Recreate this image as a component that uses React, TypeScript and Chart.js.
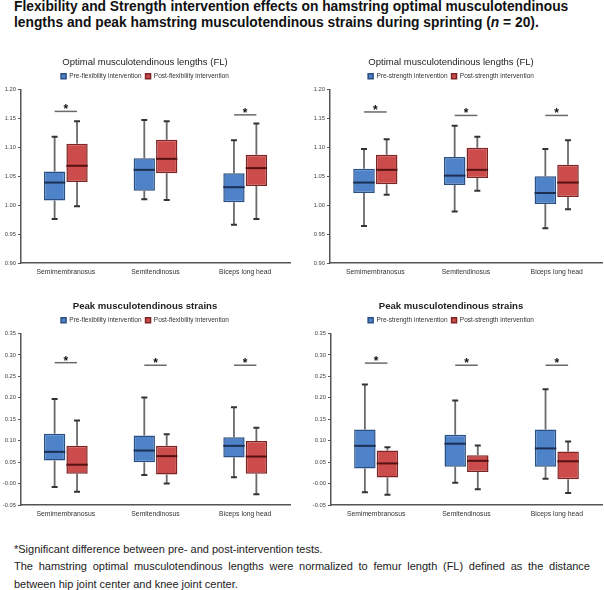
import React, { useEffect, useRef } from "react";
import { Chart, registerables } from "chart.js";

Chart.register(...registerables);

const FONT = "'Liberation Sans', Arial, sans-serif";

const categories = ["Semimembranosus", "Semitendinosus", "Biceps long head"];

// each entry: [min, q1, median, q3, max]
const flexLengthPre = [
  [0.976, 1.008, 1.039, 1.058, 1.118],
  [1.010, 1.025, 1.061, 1.081, 1.147],
  [0.966, 1.005, 1.031, 1.055, 1.112],
];
const flexLengthPost = [
  [0.998, 1.040, 1.068, 1.106, 1.145],
  [1.009, 1.055, 1.080, 1.113, 1.145],
  [0.976, 1.033, 1.064, 1.087, 1.141],
];
const flexLengthSig = [1.162, null, 1.156];

const strengthLengthPre = [
  [0.964, 1.021, 1.039, 1.063, 1.097],
  [0.989, 1.035, 1.051, 1.083, 1.137],
  [0.960, 1.002, 1.021, 1.050, 1.097],
];
const strengthLengthPost = [
  [1.018, 1.036, 1.061, 1.087, 1.114],
  [1.025, 1.047, 1.061, 1.099, 1.118],
  [0.993, 1.014, 1.039, 1.070, 1.112],
];
const strengthLengthSig = [1.161, 1.155, 1.155];

const flexStrainPre = [
  [-0.008, 0.054, 0.074, 0.116, 0.197],
  [0.020, 0.050, 0.077, 0.112, 0.201],
  [0.015, 0.061, 0.088, 0.108, 0.178],
];
const flexStrainPost = [
  [-0.019, 0.023, 0.044, 0.088, 0.147],
  [0.000, 0.021, 0.064, 0.088, 0.115],
  [-0.025, 0.023, 0.063, 0.099, 0.130],
];
const flexStrainSig = [0.282, 0.276, 0.276];

const strengthStrainPre = [
  [-0.020, 0.035, 0.088, 0.126, 0.231],
  [0.002, 0.039, 0.093, 0.114, 0.194],
  [0.011, 0.039, 0.082, 0.126, 0.220],
];
const strengthStrainPost = [
  [-0.026, 0.014, 0.047, 0.077, 0.085],
  [-0.013, 0.027, 0.053, 0.066, 0.089],
  [-0.022, 0.010, 0.052, 0.075, 0.098],
];
const strengthStrainSig = [0.281, 0.276, 0.276];

const lengthTicks = { min: 0.9, max: 1.2, step: 0.05 };
const strainTicks = { min: -0.05, max: 0.35, step: 0.05 };

const BLUE = "#4f83c9";
const BLUE_EDGE = "#2a4f82";
const BLUE_MED = "#1b2f52";
const RED = "#cc4b4b";
const RED_EDGE = "#7d2424";
const RED_MED = "#561212";

const boxExtras = {
  id: "boxExtras",
  beforeDatasetsDraw(chart: any, _args: any, opts: any) {
    const { ctx } = chart;
    const y = chart.scales.y;
    const sets = [opts.pre, opts.post];
    ctx.save();
    sets.forEach((stats: number[][], di: number) => {
      const meta = chart.getDatasetMeta(di);
      meta.data.forEach((el: any, j: number) => {
        const s = stats[j];
        const x = el.x;
        const yMin = y.getPixelForValue(s[0]);
        const yQ1 = y.getPixelForValue(s[1]);
        const yQ3 = y.getPixelForValue(s[3]);
        const yMax = y.getPixelForValue(s[4]);
        ctx.strokeStyle = "#6a6a6a";
        ctx.lineWidth = 1.8;
        ctx.beginPath();
        ctx.moveTo(x, yMax);
        ctx.lineTo(x, yQ3);
        ctx.moveTo(x, yQ1);
        ctx.lineTo(x, yMin);
        ctx.stroke();
        ctx.strokeStyle = "#333";
        ctx.lineWidth = 2;
        ctx.beginPath();
        ctx.moveTo(x - 3, yMax);
        ctx.lineTo(x + 3, yMax);
        ctx.moveTo(x - 3, yMin);
        ctx.lineTo(x + 3, yMin);
        ctx.stroke();
      });
    });
    ctx.restore();
  },
  afterDatasetsDraw(chart: any, _args: any, opts: any) {
    const { ctx } = chart;
    const y = chart.scales.y;
    const sets = [opts.pre, opts.post];
    const medColors = [BLUE_MED, RED_MED];
    ctx.save();
    sets.forEach((stats: number[][], di: number) => {
      const meta = chart.getDatasetMeta(di);
      meta.data.forEach((el: any, j: number) => {
        const ym = y.getPixelForValue(stats[j][2]);
        ctx.strokeStyle = medColors[di];
        ctx.lineWidth = 2;
        ctx.beginPath();
        ctx.moveTo(el.x - el.width / 2, ym);
        ctx.lineTo(el.x + el.width / 2, ym);
        ctx.stroke();
      });
    });
    const m0 = chart.getDatasetMeta(0);
    const m1 = chart.getDatasetMeta(1);
    (opts.sig as (number | null)[]).forEach((v, j) => {
      if (v == null) return;
      const yy = y.getPixelForValue(v);
      const x0 = m0.data[j].x;
      const x1 = m1.data[j].x;
      ctx.strokeStyle = "#6a6a6a";
      ctx.lineWidth = 1.5;
      ctx.beginPath();
      ctx.moveTo(x0, yy);
      ctx.lineTo(x1, yy);
      ctx.stroke();
      ctx.fillStyle = "#111";
      ctx.font = `bold 12px ${FONT}`;
      ctx.textAlign = "center";
      ctx.textBaseline = "alphabetic";
      ctx.fillText("*", (x0 + x1) / 2, yy + 2);
    });
    ctx.restore();
  },
};

type PanelProps = {
  left: number;
  top: number;
  width: number;
  height: number;
  axisWidth: number;
  padRight: number;
  title: string;
  bold: boolean;
  preLabel: string;
  postLabel: string;
  pre: number[][];
  post: number[][];
  sig: (number | null)[];
  range: { min: number; max: number; step: number };
};

function Panel(p: PanelProps) {
  const ref = useRef<HTMLCanvasElement>(null);
  useEffect(() => {
    if (!ref.current) return;
    const chart = new Chart(ref.current, {
      type: "bar",
      data: {
        labels: categories,
        datasets: [
          {
            label: p.preLabel,
            data: p.pre.map((s) => [s[1], s[3]]),
            backgroundColor: BLUE,
            borderColor: BLUE_EDGE,
            borderWidth: 1.5,
            borderSkipped: false,
            categoryPercentage: 0.5,
            barPercentage: 0.95,
          },
          {
            label: p.postLabel,
            data: p.post.map((s) => [s[1], s[3]]),
            backgroundColor: RED,
            borderColor: RED_EDGE,
            borderWidth: 1.5,
            borderSkipped: false,
            categoryPercentage: 0.5,
            barPercentage: 0.95,
          },
        ],
      } as any,
      options: {
        animation: false,
        responsive: false,
        maintainAspectRatio: false,
        layout: { padding: { left: 0, right: p.padRight, top: 0, bottom: 0 } },
        plugins: {
          title: {
            display: true,
            text: p.title,
            color: "#222",
            font: { family: FONT, size: p.bold ? 9.6 : 9.5, weight: p.bold ? "bold" : "normal" },
            padding: { top: 6.5, bottom: 1 },
          },
          legend: {
            display: true,
            labels: {
              boxWidth: 5,
              boxHeight: 5,
              padding: 4,
              color: "#333",
              font: { family: FONT, size: 6.5 },
            },
          },
          tooltip: { enabled: false },
          boxExtras: { pre: p.pre, post: p.post, sig: p.sig },
        } as any,
        scales: {
          x: {
            grid: { display: false, drawTicks: false },
            border: { display: true, color: "#555", width: 1.5 },
            ticks: { font: { family: FONT, size: 6.8 }, color: "#333", padding: 5 },
            afterFit: (s: any) => {
              s.height = 22;
            },
          },
          y: {
            min: p.range.min,
            max: p.range.max,
            grid: { drawOnChartArea: false, drawTicks: true, tickLength: 3, color: "#555" },
            border: { display: true, color: "#555", width: 1.5 },
            ticks: {
              stepSize: p.range.step,
              font: { family: FONT, size: 5.8 },
              color: "#444",
              padding: 2,
              callback: (v: any) => Number(v).toFixed(2),
            },
            afterFit: (s: any) => {
              s.width = p.axisWidth;
            },
          },
        },
      },
      plugins: [boxExtras],
    });
    return () => chart.destroy();
  }, []);
  return (
    <canvas
      ref={ref}
      width={p.width}
      height={p.height}
      style={{ position: "absolute", left: p.left, top: p.top, width: p.width, height: p.height }}
    />
  );
}

export default function App() {
  Chart.defaults.font.family = FONT;
  return (
    <div
      style={{
        position: "absolute",
        left: 0,
        top: 0,
        width: 604,
        height: 590,
        background: "#fff",
        fontFamily: FONT,
        color: "#111",
        overflow: "hidden",
      }}
    >
      <div
        style={{
          position: "absolute",
          left: 14,
          top: -1,
          fontSize: 13.8,
          fontWeight: "bold",
          lineHeight: "16px",
          whiteSpace: "nowrap",
        }}
      >
        <div>Flexibility and Strength intervention effects on hamstring optimal musculotendinous</div>
        <div>
          lengths and peak hamstring musculotendinous strains during sprinting (<i>n</i> = 20).
        </div>
      </div>
      <Panel
        left={0}
        top={50}
        width={300}
        height={235}
        axisWidth={21}
        padRight={10}
        title="Optimal musculotendinous lengths (FL)"
        bold={false}
        preLabel="Pre-flexibility intervention"
        postLabel="Post-flexibility intervention"
        pre={flexLengthPre}
        post={flexLengthPost}
        sig={flexLengthSig}
        range={lengthTicks}
      />
      <Panel
        left={300}
        top={50}
        width={304}
        height={235}
        axisWidth={30}
        padRight={2}
        title="Optimal musculotendinous lengths (FL)"
        bold={false}
        preLabel="Pre-strength intervention"
        postLabel="Post-strength intervention"
        pre={strengthLengthPre}
        post={strengthLengthPost}
        sig={strengthLengthSig}
        range={lengthTicks}
      />
      <Panel
        left={0}
        top={294}
        width={300}
        height={233}
        axisWidth={21}
        padRight={10}
        title="Peak musculotendinous strains"
        bold={true}
        preLabel="Pre-flexibility intervention"
        postLabel="Post-flexibility intervention"
        pre={flexStrainPre}
        post={flexStrainPost}
        sig={flexStrainSig}
        range={strainTicks}
      />
      <Panel
        left={300}
        top={294}
        width={304}
        height={233}
        axisWidth={31}
        padRight={2}
        title="Peak musculotendinous strains"
        bold={true}
        preLabel="Pre-strength intervention"
        postLabel="Post-strength intervention"
        pre={strengthStrainPre}
        post={strengthStrainPost}
        sig={strengthStrainSig}
        range={strainTicks}
      />
      <div
        style={{
          position: "absolute",
          left: 14,
          top: 540.5,
          width: 576,
          fontSize: 11,
          lineHeight: "17.5px",
          color: "#222",
        }}
      >
        <div style={{ whiteSpace: "nowrap" }}>*Significant difference between pre- and post-intervention tests.</div>
        <div style={{ textAlign: "justify", textAlignLast: "justify" as any }}>
          The hamstring optimal musculotendinous lengths were normalized to femur length (FL) defined as the distance
        </div>
        <div style={{ whiteSpace: "nowrap" }}>between hip joint center and knee joint center.</div>
      </div>
    </div>
  );
}
